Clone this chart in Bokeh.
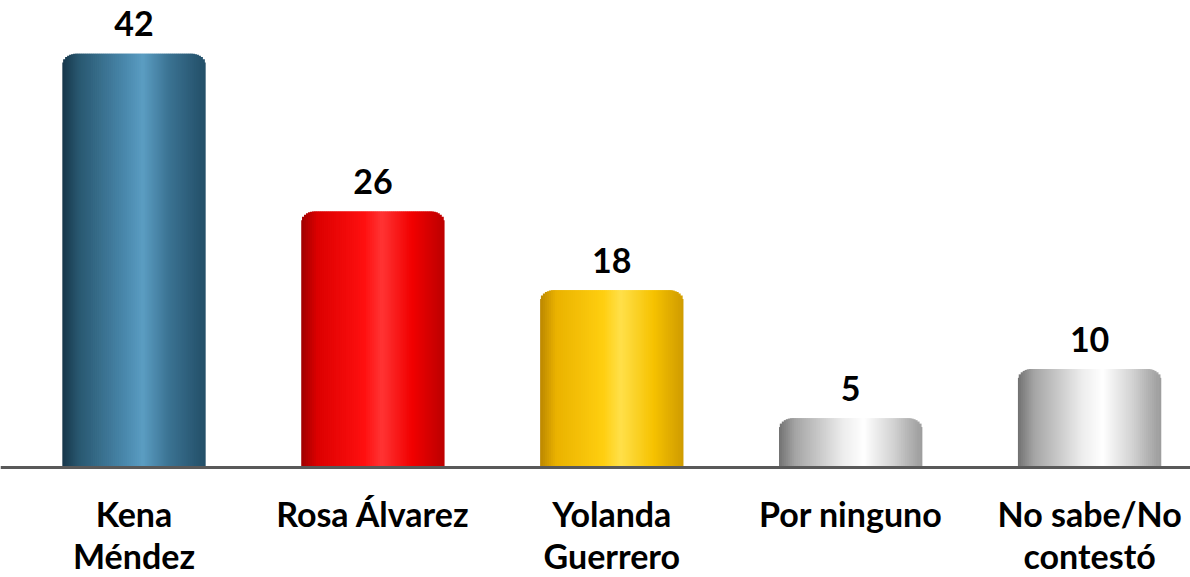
import numpy as np
from bokeh.plotting import figure
from bokeh.models import ColumnDataSource, Range1d, Span
from bokeh.core.properties import value
from bokeh.embed import file_html
from bokeh.resources import INLINE

# ---- data ----
categories = ["Kena\nMéndez", "Rosa Álvarez", "Yolanda\nGuerrero", "Por ninguno", "No sabe/No\ncontestó"]
values = [42, 26, 18, 5, 10]
value_labels = ["42", "26", "18", "5", "10"]

# ---- styling: shading profiles (t across bar width -> colour) ----
blue = [(0.0, "#163447"), (0.12, "#28576f"), (0.45, "#4a89ad"), (0.57, "#5b9dc2"), (0.75, "#3b7393"), (1.0, "#234f68")]
red = [(0.0, "#9a0000"), (0.12, "#dc0000"), (0.45, "#ff1010"), (0.57, "#ff3434"), (0.78, "#f20000"), (1.0, "#bd0000")]
yellow = [(0.0, "#b88400"), (0.12, "#eab200"), (0.45, "#ffcf10"), (0.57, "#ffe04a"), (0.8, "#f6c200"), (1.0, "#d09c00")]
gray = [(0.0, "#6e6e6e"), (0.12, "#a4a4a4"), (0.45, "#ececec"), (0.6, "#ffffff"), (0.8, "#d4d4d4"), (1.0, "#9c9c9c")]
profiles = [blue, red, yellow, gray, gray]


def hex2rgb(h):
    h = h.lstrip("#")
    return np.array([int(h[i:i + 2], 16) for i in (0, 2, 4)], dtype=float)


def interp_color(prof, t):
    for (t0, c0), (t1, c1) in zip(prof[:-1], prof[1:]):
        if t0 <= t <= t1:
            f = (t - t0) / (t1 - t0) if t1 > t0 else 0
            c = hex2rgb(c0) * (1 - f) + hex2rgb(c1) * f
            return "#%02x%02x%02x" % tuple(int(round(v)) for v in c)
    return prof[-1][1]


W = 1190
H = 577
px_x = 238.9
px_y = 9.85
x_start = -133.5 / px_x
x_end = x_start + W / px_x
y_end = 467 / px_y
y_start = y_end - H / px_y

bar_w = 0.6
N = 72
sw = bar_w / N
rx = 14 / px_x
ry = 14 / px_y

xs, tops, ws, cols = [], [], [], []
for i, v in enumerate(values):
    for k in range(N):
        t = (k + 0.5) / N
        off = -bar_w / 2 + (k + 0.5) * sw
        d = min(k + 0.5, N - k - 0.5) * sw
        drop = 0.0
        if d < rx:
            q = (rx - d) / rx
            drop = ry * (1 - np.sqrt(max(0.0, 1 - q * q)))
        xs.append(i + off)
        tops.append(v - drop)
        edge = (k == 0 or k == N - 1)
        ws.append(sw if edge else sw * 2.2)
        cols.append(interp_color(profiles[i], t))

src = ColumnDataSource(dict(x=xs, top=tops, w=ws, color=cols))

p = figure(width=W, height=H, output_backend="svg", toolbar_location=None,
           x_range=Range1d(x_start, x_end), y_range=Range1d(y_start, y_end),
           min_border=0)
p.axis.visible = False
p.grid.visible = False
p.outline_line_color = None

p.vbar(x="x", top="top", bottom=0, width="w", fill_color="color", line_color=None,
       source=src)

p.add_layout(Span(location=0, dimension="width", line_color="#595959", line_width=3))

lab_src = ColumnDataSource(dict(x=list(range(len(values))), y=values, t=value_labels,
                                cats=categories, zero=[0] * len(values)))
p.text(x="x", y="y", text="t", source=lab_src, text_align="center",
       text_baseline="alphabetic", y_offset=-30, text_font=value("Lato"),
       text_font_style="bold", text_font_size="34px", text_color="black")
p.text(x="x", y="zero", text="cats", source=lab_src, text_align="center",
       text_baseline="top", y_offset=25, text_font=value("Lato"),
       text_font_style="bold", text_font_size="34px", text_color="black",
       text_line_height=1.04)

open("out.html", "w").write(file_html(p, INLINE))
